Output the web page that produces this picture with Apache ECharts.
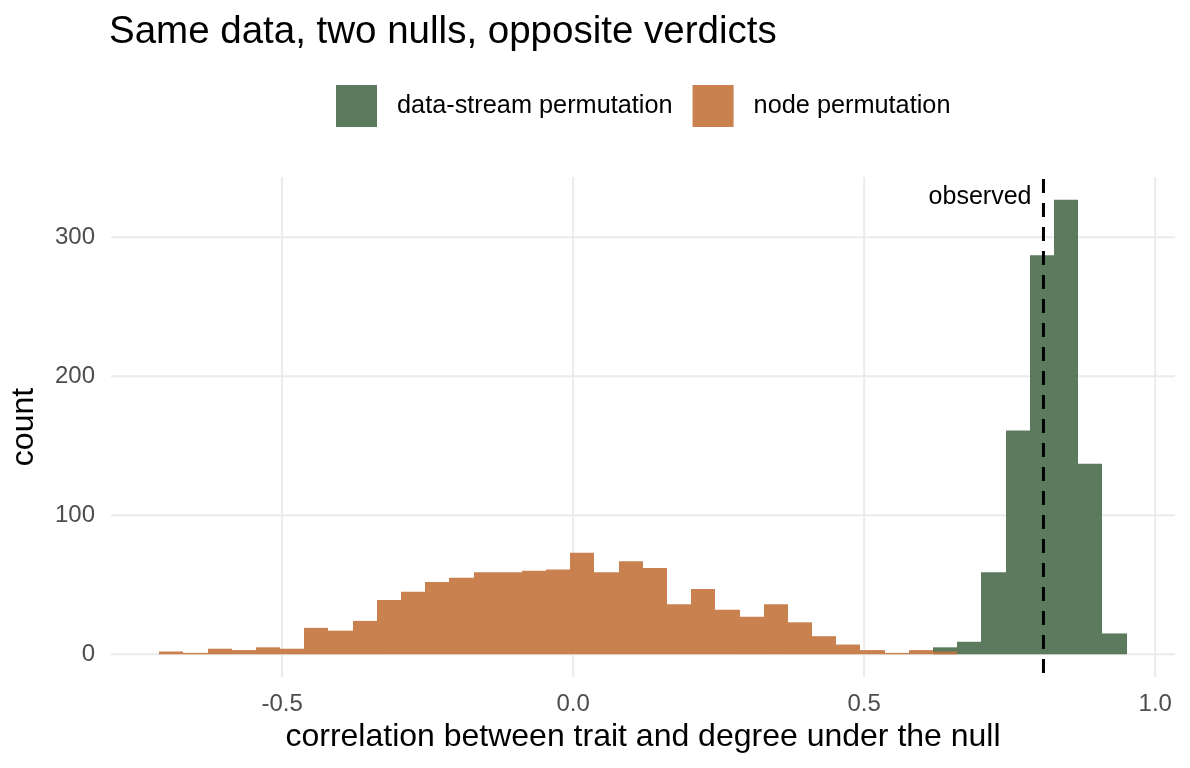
<!DOCTYPE html>
<html>
<head>
<meta charset="utf-8">
<script src="https://cdn.jsdelivr.net/npm/echarts@6/dist/echarts.min.js"></script>
<style>
  html, body { margin: 0; padding: 0; background: #fff; }
  #chart { width: 1190px; height: 768px; }
</style>
</head>
<body>
<div id="chart"></div>
<script>
  // histogram bins shared by both nulls (40 bins over pooled range)
  const binStart = -0.7113
  const binWidth = 0.04155
  // node permutation counts, bins 0..32
  const nodeCounts = [2, 1, 4, 3, 5, 4, 19, 17, 24, 39, 45, 52, 55, 59, 59, 60, 61,
    73, 59, 67, 62, 36, 47, 32, 27, 36, 23, 13, 7, 3, 1, 3, 2]
  const nodeFirstBin = 0
  // data-stream permutation counts, bins 32..39
  const streamCounts = [5, 9, 59, 161, 287, 327, 137, 15]
  const streamFirstBin = 32

  const observed = 0.808
  const xTicks = [-0.5, 0, 0.5, 1.0]
  const yTicks = [0, 100, 200, 300]

  const GREEN = '#4a6d4c'
  const ORANGE = '#c3733c'
  const FONT = '"Liberation Sans", Arial, Helvetica, sans-serif'

  function toBins (counts, first) {
    return counts.map(function (c, i) {
      let x0 = binStart + (first + i) * binWidth
      return [x0, x0 + binWidth, c]
    })
  }

  function renderBar (params, api) {
    let p0 = api.coord([api.value(0), 0])
    let p1 = api.coord([api.value(1), api.value(2)])
    // snap to whole pixels so neighbouring bins meet without seams
    let x0 = Math.round(p0[0])
    let x1 = Math.round(p1[0])
    return {
      type: 'rect',
      shape: { x: x0, y: p1[1], width: x1 - x0, height: p0[1] - p1[1] },
      style: api.style()
    }
  }

  // grid lines drawn across the whole panel
  function renderVGrid (params, api) {
    let cs = params.coordSys
    let x = api.coord([api.value(0), 0])[0]
    return { type: 'line', shape: { x1: x, y1: cs.y, x2: x, y2: cs.y + cs.height },
      style: { stroke: '#ebebeb', lineWidth: 2 } }
  }
  function renderHGrid (params, api) {
    let cs = params.coordSys
    let y = api.coord([0, api.value(0)])[1]
    return { type: 'line', shape: { x1: cs.x, y1: y, x2: cs.x + cs.width, y2: y },
      style: { stroke: '#ebebeb', lineWidth: 2 } }
  }

  function renderObserved (params, api) {
    let cs = params.coordSys
    let x = api.coord([api.value(0), 0])[0]
    let ty = api.coord([0, api.value(1)])[1]
    return {
      type: 'group',
      children: [
        { type: 'line', shape: { x1: x, y1: cs.y + 2, x2: x, y2: cs.y + cs.height },
          style: { stroke: '#000', lineWidth: 3, lineDash: [14, 10] } },
        { type: 'text', x: x - 12, y: ty,
          style: { text: 'observed', fill: '#000', font: '25px ' + FONT, align: 'right', verticalAlign: 'middle' } }
      ]
    }
  }

  let chart = echarts.init(document.getElementById('chart'))
  chart.setOption({
    animation: false,
    title: {
      text: 'Same data, two nulls, opposite verdicts',
      left: 109,
      top: 13,
      padding: 0,
      textStyle: { fontFamily: FONT, fontSize: 38.5, fontWeight: 'normal', color: '#000' }
    },
    legend: {
      top: 85,
      left: 336,
      itemWidth: 41,
      itemHeight: 42,
      itemGap: 20,
      padding: 0,
      icon: 'rect',
      textStyle: { fontFamily: FONT, fontSize: 25.3, color: '#000', padding: [4, 0, 0, 15] },
      data: [
        { name: 'data-stream permutation', itemStyle: { color: GREEN, opacity: 0.9 } },
        { name: 'node permutation', itemStyle: { color: ORANGE, opacity: 0.9 } }
      ]
    },
    grid: { left: 110, right: 15, top: 177, bottom: 91 },
    xAxis: {
      type: 'value',
      min: -0.794,
      max: 1.034,
      name: 'correlation between trait and degree under the null',
      nameLocation: 'middle',
      nameGap: 39,
      nameTextStyle: { fontFamily: FONT, fontSize: 32, color: '#000' },
      axisLine: { show: false },
      axisTick: { show: false },
      splitLine: { show: false },
      axisLabel: {
        customValues: xTicks,
        margin: 15,
        fontFamily: FONT,
        fontSize: 24,
        color: '#4d4d4d',
        formatter: function (v) { return v.toFixed(1) }
      }
    },
    yAxis: {
      type: 'value',
      min: -16.35,
      max: 343.35,
      name: 'count',
      nameLocation: 'middle',
      nameGap: 71,
      nameTextStyle: { fontFamily: FONT, fontSize: 32, color: '#000' },
      axisLine: { show: false },
      axisTick: { show: false },
      splitLine: { show: false },
      axisLabel: {
        customValues: yTicks,
        margin: 16,
        fontFamily: FONT,
        fontSize: 24,
        color: '#4d4d4d'
      }
    },
    series: [
      { type: 'custom', name: 'vgrid', silent: true, z: 0, renderItem: renderVGrid,
        data: xTicks.map(function (v) { return [v] }), encode: { x: 0 } },
      { type: 'custom', name: 'hgrid', silent: true, z: 0, renderItem: renderHGrid,
        data: yTicks.map(function (v) { return [v] }), encode: { y: 0 } },
      {
        type: 'custom',
        name: 'data-stream permutation',
        z: 2,
        renderItem: renderBar,
        itemStyle: { color: GREEN, opacity: 0.9 },
        encode: { x: [0, 1], y: 2 },
        data: toBins(streamCounts, streamFirstBin)
      },
      {
        type: 'custom',
        name: 'node permutation',
        z: 2,
        renderItem: renderBar,
        itemStyle: { color: ORANGE, opacity: 0.9 },
        encode: { x: [0, 1], y: 2 },
        data: toBins(nodeCounts, nodeFirstBin)
      },
      { type: 'custom', name: 'observed', silent: true, z: 3, renderItem: renderObserved,
        data: [[observed, 329]], encode: { x: 0, y: 1 } }
    ]
  })
</script>
</body>
</html>
